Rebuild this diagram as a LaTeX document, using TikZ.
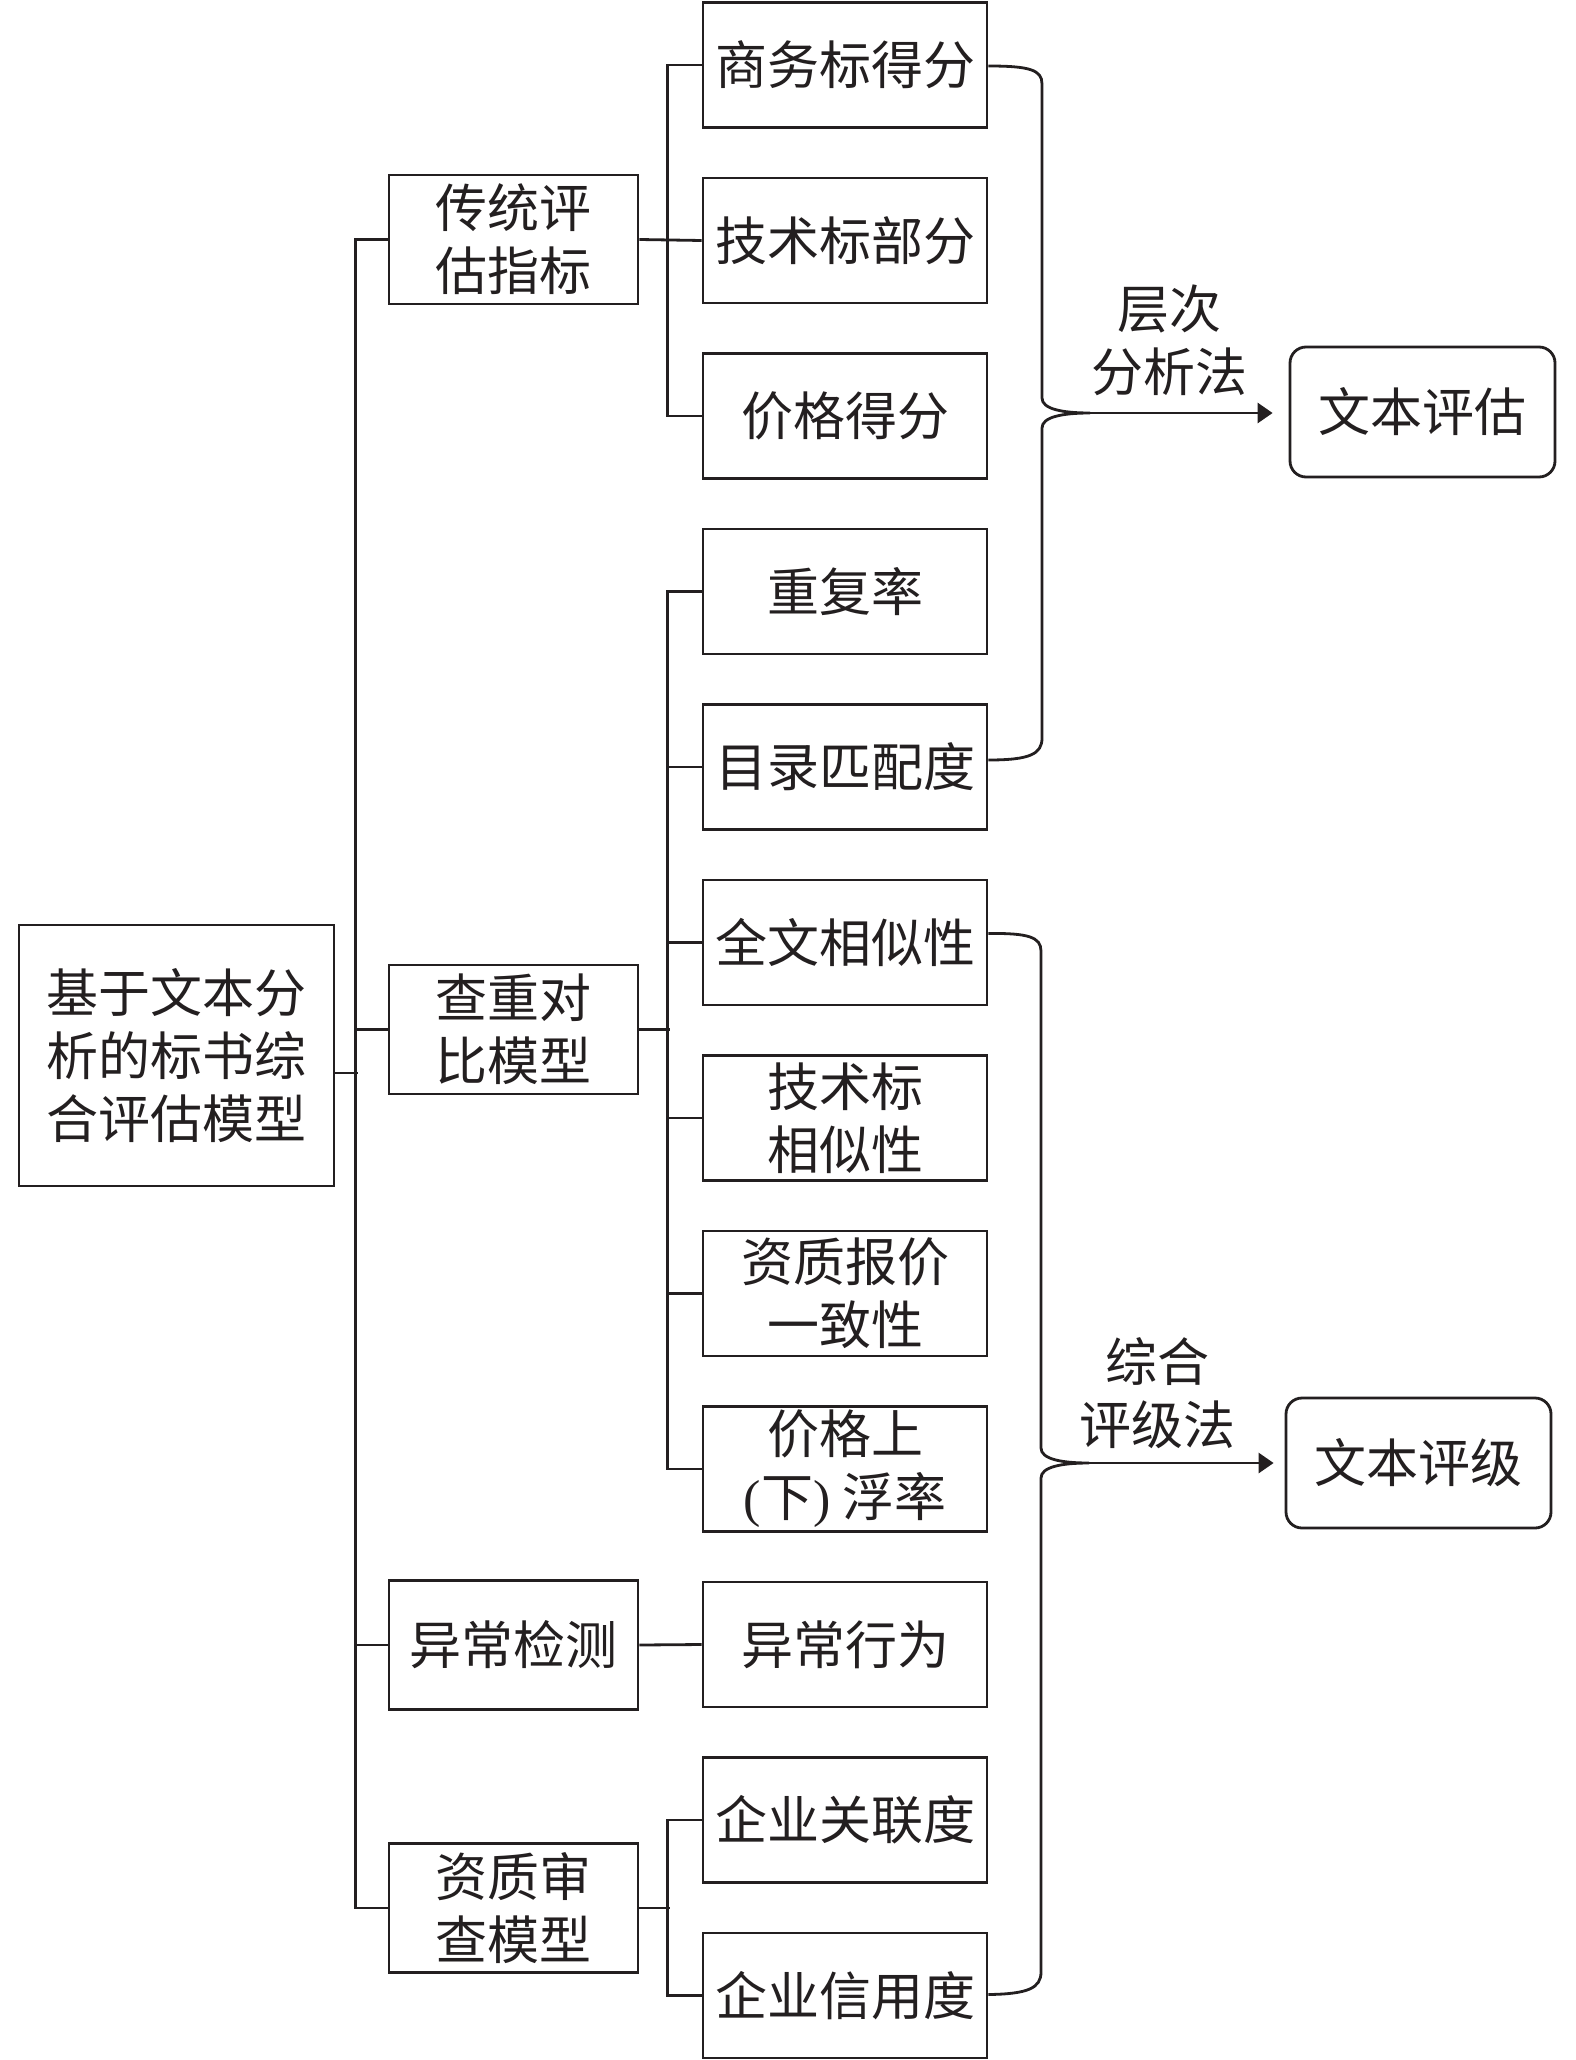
\documentclass[tikz,border=0pt]{standalone}
\usepackage{fontspec}
\setmainfont{Noto Sans CJK SC}
\newfontfamily\latinfont{Liberation Serif}
\usetikzlibrary{arrows.meta,calc}
\definecolor{ink}{HTML}{231F20}
\newcommand\diagfont{\fontsize{26pt}{31.5pt}\selectfont}
\begin{document}
\begin{tikzpicture}[x=0.5pt,y=-0.5pt,line width=1.4pt,
  base/.style={draw=ink,line width=1.4pt,inner sep=0pt,align=center,font=\diagfont,text=ink},
  rbox/.style={base,minimum width=142pt,minimum height=62.5pt},
  mbox/.style={base,minimum width=124.5pt,minimum height=64.5pt},
  rootbox/.style={base,minimum width=157.5pt,minimum height=130.5pt},
  endbox/.style={base,rounded corners=8pt,minimum width=132.5pt,minimum height=65pt},
  lbl/.style={inner sep=0pt,align=center,font=\diagfont,text=ink},
  conn/.style={draw=ink,line width=1.4pt},
  brace/.style={draw=ink,line width=1.4pt},
  arr/.style={draw=ink,line width=1.4pt,-{Triangle[length=7.5pt,width=10pt]}}]
\useasboundingbox (0,0) rectangle (1575,2060);
\fill[white] (0,0) rectangle (1575,2060);

% right column
\node[rbox] (s1) at (845,65) {商务标得分};
\node[rbox] (s2) at (845,240.5) {技术标部分};
\node[rbox] (s3) at (845,416) {价格得分};
\node[rbox] (s4) at (845,591.5) {重复率};
\node[rbox] (s5) at (845,767) {目录匹配度};
\node[rbox] (s6) at (845,942.5) {全文相似性};
\node[rbox] (s7) at (845,1118) {技术标\\相似性};
\node[rbox] (s8) at (845,1293.5) {资质报价\\一致性};
\node[rbox] (s9) at (845,1469) {价格上\\{\latinfont(}下{\latinfont)} 浮率};
\node[rbox] (s10) at (845,1644.5) {异常行为};
\node[rbox] (s11) at (845,1820) {企业关联度};
\node[rbox] (s12) at (845,1995.5) {企业信用度};

% middle column
\node[mbox] (m1) at (513.5,239.5) {传统评\\估指标};
\node[mbox] (m2) at (513.5,1029.5) {查重对\\比模型};
\node[mbox] (m3) at (513.5,1645) {异常检测};
\node[mbox] (m4) at (513.5,1908) {资质审\\查模型};

% root
\node[rootbox] (root) at (176.5,1055.5) {基于文本分\\析的标书综\\合评估模型};

% end boxes
\node[endbox] (e1) at (1422.5,412) {文本评估};
\node[endbox] (e2) at (1418.5,1463) {文本评级};

% labels
\node[lbl] (l1) at (1169,340.5) {层次\\分析法};
\node[lbl] (l2) at (1157.5,1393) {综合\\评级法};

% trunk
\draw[conn] (m1.west) -- ++(-32,0) |- (m4.west);
\draw[conn] (m2.west) -- ++(-32,0);
\draw[conn] (m3.west) -- ++(-32,0);
\draw[conn] ([yshift=-8.75pt]root.east) -- ++(23,0);

% group 1
\draw[conn] (s1.west) -- ++(-34,0) |- (s3.west);
\draw[conn] (m1.east) -- (s2.west);
% group 2
\draw[conn] (s4.west) -- ++(-34,0) |- (s9.west);
\draw[conn] (s5.west) -- ++(-34,0);
\draw[conn] (s6.west) -- ++(-34,0);
\draw[conn] (s7.west) -- ++(-34,0);
\draw[conn] (s8.west) -- ++(-34,0);
\draw[conn] (m2.east) -- ++(31,0);
% group 3
\draw[conn] (m3.east) -- (s10.west);
% group 4
\draw[conn] (s11.west) -- ++(-34,0) |- (s12.west);
\draw[conn] (m4.east) -- ++(31,0);

% brace 1
\coordinate (t1) at (1090,413);
\draw[brace] ([yshift=-0.5pt]s1.east) .. controls (1030,66) and (1042,70) .. (1042,84)
  -- (1042,398) .. controls (1042,409) and (1062,413) .. (t1)
  .. controls (1062,413) and (1042,417) .. (1042,428)
  -- (1042,738) .. controls (1042,754) and (1030,760) .. ([yshift=3.5pt]s5.east);
\draw[arr,shorten >=8pt] (t1) -- (e1.west |- t1);

% brace 2
\coordinate (t2) at (1089,1463);
\draw[brace] ([yshift=4.5pt]s6.east) .. controls (1028,933) and (1041,937) .. (1041,951)
  -- (1041,1448) .. controls (1041,1459) and (1061,1463) .. (t2)
  .. controls (1061,1463) and (1041,1467) .. (1041,1478)
  -- (1041,1972) .. controls (1041,1988) and (1028,1994) .. ([yshift=0.5pt]s12.east);
\draw[arr,shorten >=5.5pt] (t2) -- (e2.west |- t2);
\end{tikzpicture}
\end{document}
